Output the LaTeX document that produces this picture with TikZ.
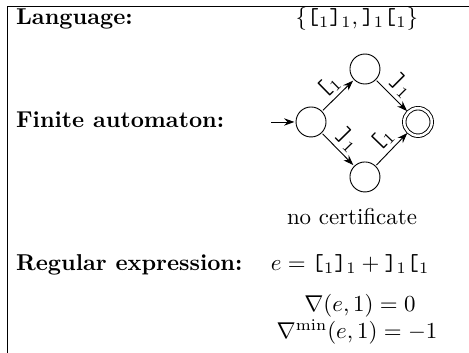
\documentclass[tikz,border=0pt]{standalone}
\usepackage{amsmath}
\usetikzlibrary{arrows.meta}

\newcommand{\opn}{\text{\texttt{[}}_1}
\newcommand{\cls}{\text{\texttt{]}}_1}

\begin{document}
\begin{tikzpicture}[
    state/.style={draw,circle,thin,inner sep=0pt,minimum size=0.46cm},
    accept/.style={draw,circle,thin,double,double distance=1.1pt,inner sep=0pt,minimum size=12pt},
    trans/.style={-{Stealth[length=4.5pt,width=3.2pt]},thin,shorten >=0.5pt,shorten <=0.5pt},
    lbl/.style={above,sloped,inner sep=1.5pt},
    rowhead/.style={anchor=base west,inner sep=0pt,font=\bfseries}
  ]
  \useasboundingbox (0,0) rectangle (7.19,-5.41);
  \draw[thin] (0.107,-5.41) -- (0.107,-0.092) -- (7.19,-0.092);

  % row: language
  \node[rowhead] (lang) at (0.24,-0.376) {Language:};
  \node[anchor=base] (langset) at (5.47,-0.376) {$\{\opn\cls,\cls\opn\}$};

  % row: automaton
  \node[rowhead] (fa) at (0.24,-1.958) {Finite automaton:};
  \coordinate (start) at (4.14,-1.87);
  \node[state] (q0) at (4.768,-1.87) {};
  \node[state] (q1) at (5.595,-1.058) {};
  \node[state] (q2) at (5.595,-2.713) {};
  \node[accept] (q3) at (6.408,-1.87) {};
  \draw[trans] (start) -- (q0);
  \draw[trans] (q0) -- node[lbl] {$\opn$} (q1);
  \draw[trans] (q1) -- node[lbl] {$\cls$} (q3);
  \draw[trans] (q0) -- node[lbl] {$\cls$} (q2);
  \draw[trans] (q2) -- node[lbl] {$\opn$} (q3);
  \node[anchor=base] (cert) at (5.396,-3.449) {no certificate};

  % row: regular expression
  \node[rowhead] (re) at (0.24,-4.14) {Regular expression:};
  \node[anchor=base] (expr) at (5.366,-4.14) {$e = \opn\cls + \cls\opn$};
  \node[anchor=base] (nabla) at (5.519,-4.778) {$\nabla(e,1) = 0$};
  \node[anchor=base] (nablamin) at (5.473,-5.197) {$\nabla^{\min}(e,1) = -1$};
\end{tikzpicture}
\end{document}
